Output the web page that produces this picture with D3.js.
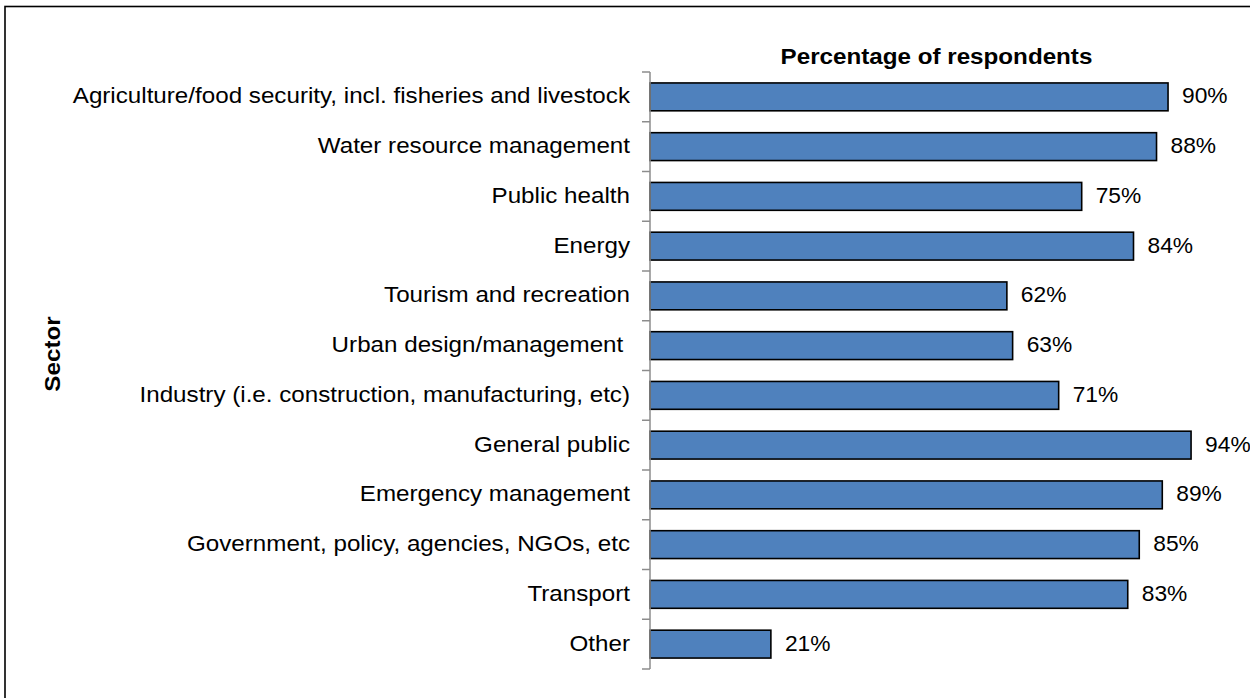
<!DOCTYPE html>
<html>
<head>
<meta charset="utf-8">
<script src="https://cdn.jsdelivr.net/npm/d3@7"></script>
<style>
  html, body { margin: 0; padding: 0; background: #fff; }
  svg { display: block; font-family: "Liberation Sans", Arial, sans-serif; }
</style>
</head>
<body>
<svg id="chart" width="1250" height="698"></svg>
<script>
// Sectors and share of respondents (%)
const sectors = [
  "Agriculture/food security, incl. fisheries and livestock",
  "Water resource management",
  "Public health",
  "Energy",
  "Tourism and recreation",
  "Urban design/management ",
  "Industry (i.e. construction, manufacturing, etc)",
  "General public",
  "Emergency management",
  "Government, policy, agencies, NGOs, etc",
  "Transport",
  "Other"
];
const percentages = [90, 88, 75, 84, 62, 63, 71, 94, 89, 85, 83, 21];
const chartTitle = "Percentage of respondents";
const axisTitle = "Sector";

(function () {
  const svg = d3.select("#chart");
  const W = 1250, H = 698;
  const fs = 21.5;         // base font size

  // Frame (top and left edges fall inside the canvas)
  svg.append("rect")
    .attr("x", 5).attr("y", 6.5)
    .attr("width", W + 20).attr("height", H + 20)
    .attr("fill", "none").attr("stroke", "#000").attr("stroke-width", 1.6);

  const plotLeft = 650, plotTop = 72, plotBottom = 669;

  const x = d3.scaleLinear().domain([0, 100]).range([plotLeft, plotLeft + 575.6]);
  const y = d3.scaleBand().domain(sectors).range([plotTop, plotBottom])
    .paddingInner(0.44).paddingOuter(0.22);

  // Bars
  svg.append("g").selectAll("rect")
    .data(sectors)
    .join("rect")
    .attr("x", x(0))
    .attr("y", d => y(d))
    .attr("width", (d, i) => x(percentages[i]) - x(0))
    .attr("height", y.bandwidth())
    .attr("fill", "#4f81bd")
    .attr("stroke", "#000")
    .attr("stroke-width", 1.6);

  // Category axis with ticks at band boundaries
  const axisG = svg.append("g");
  axisG.append("line")
    .attr("x1", plotLeft).attr("x2", plotLeft)
    .attr("y1", plotTop).attr("y2", plotBottom)
    .attr("stroke", "#8c8c8c").attr("stroke-width", 1.5);
  const step = (plotBottom - plotTop) / sectors.length;
  axisG.selectAll("line.tick")
    .data(d3.range(sectors.length + 1))
    .join("line")
    .attr("class", "tick")
    .attr("x1", plotLeft - 8).attr("x2", plotLeft)
    .attr("y1", i => plotTop + i * step).attr("y2", i => plotTop + i * step)
    .attr("stroke", "#8c8c8c").attr("stroke-width", 1.5);

  // Category labels
  svg.append("g").selectAll("text")
    .data(sectors)
    .join("text")
    .attr("transform", d => `translate(${plotLeft - 20},${y(d) + y.bandwidth() / 2}) scale(1.125,1)`)
    .attr("dy", "0.3em")
    .attr("text-anchor", "end")
    .attr("font-size", fs)
    .attr("fill", "#000")
    .style("white-space", "pre")
    .text(d => d);

  // Value labels
  svg.append("g").selectAll("text")
    .data(sectors)
    .join("text")
    .attr("transform", (d, i) => `translate(${x(percentages[i]) + 14},${y(d) + y.bandwidth() / 2}) scale(1.06,1)`)
    .attr("dy", "0.3em")
    .attr("font-size", fs)
    .attr("fill", "#000")
    .text((d, i) => percentages[i] + "%");

  // Titles
  svg.append("text")
    .attr("transform", "translate(936.5,64) scale(1.1,1)")
    .attr("text-anchor", "middle")
    .attr("font-size", 22)
    .attr("font-weight", "bold")
    .text(chartTitle);

  svg.append("text")
    .attr("transform", "translate(60,354) rotate(-90) scale(1.1,1)")
    .attr("text-anchor", "middle")
    .attr("font-size", 22)
    .attr("font-weight", "bold")
    .text(axisTitle);
})();
</script>
</body>
</html>
